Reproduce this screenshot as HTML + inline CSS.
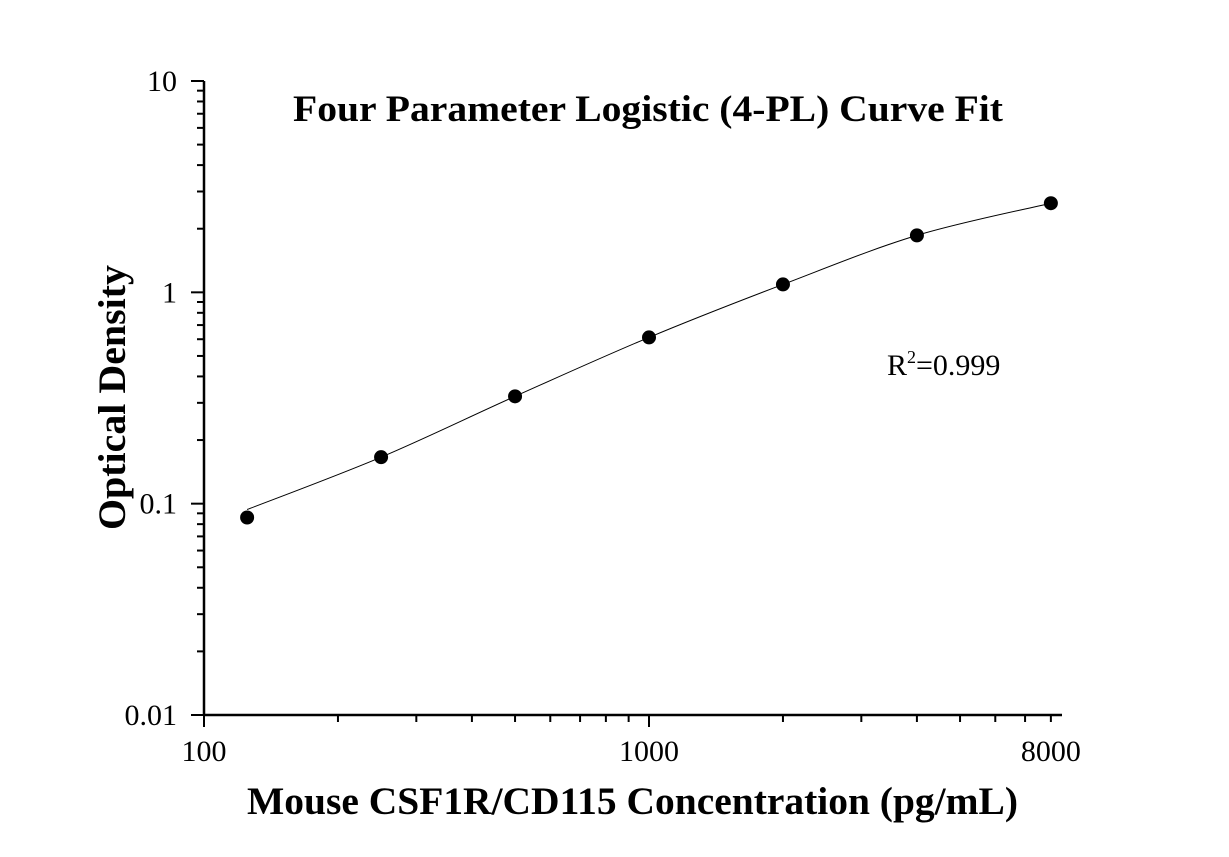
<!DOCTYPE html>
<html><head><meta charset="utf-8"><style>
body{margin:0;background:#fff}
svg{display:block;font-family:"Liberation Serif",serif}
</style></head><body>
<svg id="chart" width="1229" height="857">
<rect width="1229" height="857" fill="#fff"/>
<text x="293" y="121" font-size="37" font-weight="bold" textLength="710" lengthAdjust="spacingAndGlyphs">Four Parameter Logistic (4-PL) Curve Fit</text>
<text x="247" y="814" font-size="39" font-weight="bold" textLength="771" lengthAdjust="spacingAndGlyphs">Mouse CSF1R/CD115 Concentration (pg/mL)</text>
<text transform="translate(125,530) rotate(-90)" font-size="39" font-weight="bold" textLength="265" lengthAdjust="spacingAndGlyphs">Optical Density</text>
<text x="887" y="375" font-size="30">R<tspan dy="-12" font-size="18">2</tspan><tspan dy="12">=0.999</tspan></text>
<g id="axes"></g>
<g id="marks"></g>
</svg>
<script>
const concentrations=[125,250,500,1000,2000,4000,8000];
const odValues=[0.086,0.166,0.322,0.612,1.09,1.86,2.64];
const xTickLabels=["100","1000","8000"];
const xTickValues=[100,1000,8000];
const yTickLabels=["0.01","0.1","1","10"];
const yTickValues=[0.01,0.1,1,10];
const NS="http://www.w3.org/2000/svg";
const X0=204,X1=1062,xMin=100,xMax=Math.pow(10,(1062-204)/445+2);
const Y0=715,Y1=81,yMin=0.01,yMax=10;
const xs=v=>X0+(Math.log10(v)-Math.log10(xMin))/(Math.log10(xMax)-Math.log10(xMin))*(X1-X0);
const ys=v=>Y0-(Math.log10(v)-Math.log10(yMin))/(Math.log10(yMax)-Math.log10(yMin))*(Y0-Y1);
function mk(t,a,p){const e=document.createElementNS(NS,t);for(const k in a)e.setAttribute(k,a[k]);p.appendChild(e);return e;}
const ax=document.getElementById('axes'),mg=document.getElementById('marks');
let l=mk('line',{x1:X0,y1:Y0,x2:X1,y2:Y0,stroke:'#000','stroke-width':2.5},ax);


l=mk('line',{x1:X0,y1:Y0,x2:X0,y2:Y1,stroke:'#000','stroke-width':2.5},ax);


for(let d=100;d<=1000;d*=10){for(let m=1;m<10;m++){const v=d*m;if(v>xMax)break;const x=xs(v);const major=(m===1);
 const t=mk('line',{x1:x,y1:Y0,x2:x,y2:Y0+(major?12:7),stroke:'#000','stroke-width':2},ax);
 
 }}
xTickValues.forEach((v,i)=>{const t=mk('text',{x:xs(v),y:Y0+46,'text-anchor':'middle','font-size':30},ax);t.textContent=xTickLabels[i];
 
 });
for(let d=0.01;d<10;d*=10){for(let m=1;m<10;m++){const v=d*m;const y=ys(v);const major=(m===1);
 const t=mk('line',{x1:X0,y1:y,x2:X0-(major?13:7),y2:y,stroke:'#000','stroke-width':2},ax);
 
 }}
let tt=mk('line',{x1:X0,y1:ys(10),x2:X0-13,y2:ys(10),stroke:'#000','stroke-width':2},ax);


yTickValues.forEach((v,i)=>{const t=mk('text',{x:X0-27,y:ys(v)+10,'text-anchor':'end','font-size':30},ax);t.textContent=yTickLabels[i];
 
 });
const P=concentrations.map((c,i)=>[xs(c),ys(odValues[i])]);
P[0]=[P[0][0],P[0][1]-8];
let d='M'+P[0][0]+','+P[0][1];
for(let i=0;i<P.length-1;i++){const p0=P[i-1]||P[i],p1=P[i],p2=P[i+1],p3=P[i+2]||P[i+1];
 d+=` C${p1[0]+(p2[0]-p0[0])/6},${p1[1]+(p2[1]-p0[1])/6} ${p2[0]-(p3[0]-p1[0])/6},${p2[1]-(p3[1]-p1[1])/6} ${p2[0]},${p2[1]}`;}
const c=mk('path',{d:d,fill:'none',stroke:'#000','stroke-width':1},mg);


concentrations.forEach((v,i)=>{const p=mk('circle',{cx:xs(v),cy:ys(odValues[i]),r:7,fill:'#000'},mg);
 
 });
</script>
</body></html>
